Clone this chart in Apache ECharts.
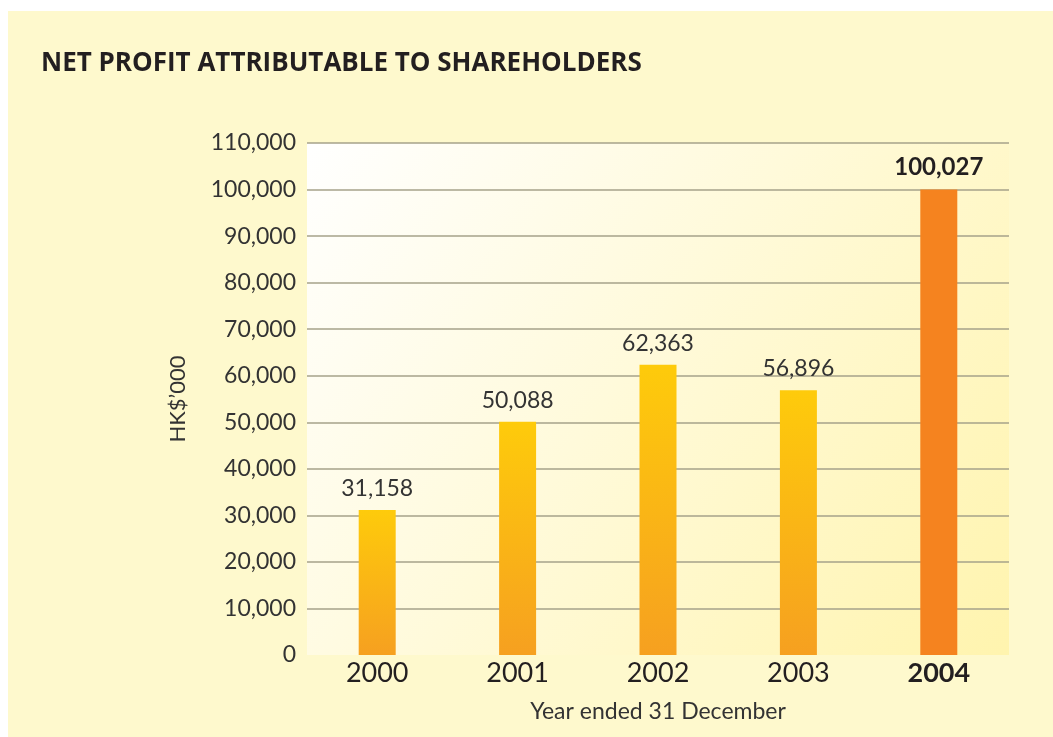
<!DOCTYPE html>
<html>
<head>
<meta charset="utf-8">
<script src="https://cdn.jsdelivr.net/npm/echarts@6/dist/echarts.min.js"></script>
<style>
    html, body { margin: 0; padding: 0; background: #ffffff; }
    #chart {
        position: absolute;
        left: 8px;
        top: 11px;
        width: 1045px;
        height: 726px;
        background: #fef9cd;
    }
</style>
</head>
<body>
<div id="chart"></div>
<script>
    const years = ['2000', '2001', '2002', '2003', '2004'];
    const profit = [31158, 50088, 62363, 56896, 100027];
    const highlightYear = '2004';

    const chart = echarts.init(document.getElementById('chart'));
    const fontFamily = 'Lato, "Open Sans", sans-serif';

    const barGradient = new echarts.graphic.LinearGradient(0, 0, 0, 1, [
        { offset: 0, color: '#fecb0b' },
        { offset: 1, color: '#f6a020' }
    ]);

    const seriesData = profit.map((v, i) => {
        const hot = years[i] === highlightYear;
        return {
            value: v,
            itemStyle: { color: hot ? '#f5831f' : barGradient },
            label: hot ? { fontWeight: 'bold', fontSize: 24, color: '#231f20' } : {}
        };
    });

    const option = {
        animation: false,
        title: {
            text: 'NET PROFIT ATTRIBUTABLE TO SHAREHOLDERS',
            left: 33,
            top: 40,
            padding: 0,
            textStyle: {
                fontFamily: '"Open Sans", sans-serif',
                fontWeight: 'bold',
                fontSize: 26,
                color: '#231f20'
            }
        },
        grid: {
            left: 299,
            top: 132,
            right: 44,
            bottom: 82,
            show: true,
            borderWidth: 0,
            backgroundColor: new echarts.graphic.LinearGradient(0, 0, 1, 1, [
                { offset: 0, color: '#ffffff' },
                { offset: 1, color: '#fff4ae' }
            ])
        },
        xAxis: {
            type: 'category',
            data: years,
            name: 'Year ended 31 December',
            nameLocation: 'middle',
            nameGap: 45,
            nameTextStyle: { fontFamily: fontFamily, fontSize: 23, color: '#333333' },
            axisLine: { show: false },
            axisTick: { show: false },
            axisLabel: {
                margin: 5,
                fontFamily: fontFamily,
                fontSize: 27,
                color: '#231f20',
                formatter: v => v === highlightYear ? '{b|' + v + '}' : v,
                rich: { b: { fontFamily: fontFamily, fontWeight: 'bold', fontSize: 27, color: '#231f20' } }
            }
        },
        yAxis: {
            type: 'value',
            min: 0,
            max: 110000,
            interval: 10000,
            name: 'HK$\u2019000',
            nameLocation: 'middle',
            nameRotate: 90,
            nameGap: 118,
            nameTextStyle: { fontFamily: fontFamily, fontSize: 22, color: '#333333' },
            axisLine: { show: false },
            axisTick: { show: false },
            axisLabel: {
                margin: 11,
                fontFamily: fontFamily,
                fontSize: 23,
                color: '#333333',
                formatter: v => v.toLocaleString('en-US')
            },
            splitLine: {
                showMinLine: false,
                lineStyle: { color: '#a6a28a', width: 1.5 }
            }
        },
        series: [{
            type: 'bar',
            data: seriesData,
            barWidth: 37,
            label: {
                show: true,
                position: 'top',
                distance: 10,
                fontFamily: fontFamily,
                fontSize: 23,
                color: '#333333',
                formatter: p => p.value.toLocaleString('en-US')
            }
        }]
    };

    chart.setOption(option);
</script>
</body>
</html>
